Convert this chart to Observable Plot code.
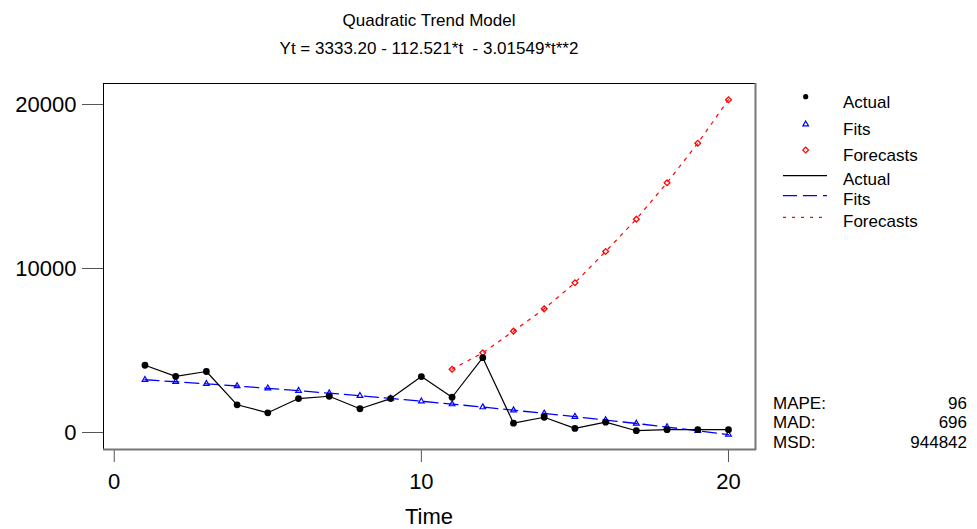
<!DOCTYPE html>
<html><head><meta charset="utf-8">
<script src="https://cdn.jsdelivr.net/npm/d3@7"></script>
<script src="https://cdn.jsdelivr.net/npm/@observablehq/plot@0.6"></script>
<style>body{margin:0;background:#fff}#chart{position:relative;width:977px;height:529px}</style>
</head><body><div id="chart"></div>
<script>
const time = [1,2,3,4,5,6,7,8,9,10,11,12,13,14,15,16,17,18,19,20];
const actual = [4100,3420,3720,1690,1200,2070,2210,1450,2070,3410,2150,4560,570,930,250,630,110,170,170,170];
const fits = [3218,3096,2969,2835,2695,2550,2398,2240,2076,1906,1731,1549,1361,1167,967,761,549,331,107,-123];
const forecastTime = [11,12,13,14,15,16,17,18,19,20];
const forecasts = [3860,4860,6180,7540,9130,11040,13010,15230,17640,20290];
const xTicks = [0,10,20];
const yTicks = [0,10000,20000];
const titleText = "Quadratic Trend Model";
const subtitleText = "Yt = 3333.20 - 112.521*t  - 3.01549*t**2";
const xLabel = "Time";
const legendLabels = ["Actual","Fits","Forecasts"];
const statNames = ["MAPE:","MAD:","MSD:"];
const statValues = ["96","696","944842"];

const actualData = time.map((t,i)=>({t, v: actual[i]}));
const fitsData = time.map((t,i)=>({t, v: fits[i]}));
const fcData = forecastTime.map((t,i)=>({t, v: forecasts[i]}));

const FONT = "'Liberation Sans', Arial, Helvetica, sans-serif";
const BLUE = "#0000ff", RED = "#ff0000";

const chart = Plot.plot({
  width: 977, height: 529,
  marginLeft: 103, marginRight: 222, marginTop: 83, marginBottom: 80,
  style: {fontFamily: FONT, background: "#fff", overflow: "visible"},
  x: {domain: [-0.35, 20.88]},
  y: {domain: [-1036, 21280]},
  marks: [
    Plot.frame({stroke: "black"}),
    Plot.axisX({ticks: xTicks, tickSize: 13, tickPadding: 11, fontSize: 22, stroke: "#555", fill: "black", label: null}),
    Plot.axisY({ticks: yTicks, tickSize: 21, tickPadding: 6, fontSize: 22, stroke: "#555", fill: "black", label: null, tickFormat: d => String(d)}),
    Plot.line(fcData, {x: "t", y: "v", stroke: RED, strokeWidth: 1.2, strokeDasharray: "3,6"}),
    Plot.line(fitsData, {x: "t", y: "v", stroke: BLUE, strokeWidth: 1.3, strokeDasharray: "14,6"}),
    Plot.line(actualData, {x: "t", y: "v", stroke: "black", strokeWidth: 1.2}),
    Plot.dot(fcData, {x: "t", y: "v", symbol: "square", rotate: 45, r: 2.3, stroke: RED, fill: "none", strokeWidth: 1.3}),
    Plot.dot(fitsData, {x: "t", y: "v", symbol: "triangle", r: 2.1, stroke: BLUE, fill: "none", strokeWidth: 1.2}),
    Plot.dot(actualData, {x: "t", y: "v", r: 3.4, fill: "black"})
  ]
});
document.getElementById("chart").appendChild(chart);

const svg = d3.select(chart);
svg.append("line").attr("x1", 755.5).attr("x2", 755.5).attr("y1", 83).attr("y2", 450).attr("stroke", "#777").attr("stroke-width", 2);
svg.append("line").attr("x1", 103).attr("x2", 756).attr("y1", 449.5).attr("y2", 449.5).attr("stroke", "#777").attr("stroke-width", 2);

const g = svg.append("g").attr("font-family", FONT).attr("fill", "black").attr("text-anchor", "start");
g.append("text").attr("x", 429).attr("y", 26).attr("text-anchor", "middle").attr("font-size", 17).text(titleText);
g.append("text").attr("x", 429).attr("y", 54).attr("text-anchor", "middle").attr("font-size", 17).style("white-space", "pre").text(subtitleText);
g.append("text").attr("x", 429).attr("y", 524).attr("text-anchor", "middle").attr("font-size", 22).text(xLabel);

// legend
const symY = [96.7, 124.3, 150];
const txtY = [108, 135, 161];
const sym = [d3.symbolCircle, d3.symbolTriangle, d3.symbolSquare];
const symCol = ["black", BLUE, RED];
const symR = [2.6, 2.1, 2.3];
legendLabels.forEach((lab, i) => {
  const p = g.append("path")
    .attr("d", d3.symbol(sym[i], Math.PI * symR[i] * symR[i])())
    .attr("transform", `translate(805.7,${symY[i]})` + (i === 2 ? " rotate(45)" : ""));
  if (i === 0) p.attr("fill", "black"); else p.attr("fill", "none").attr("stroke", symCol[i]).attr("stroke-width", 1.2);
  g.append("text").attr("x", 843).attr("y", txtY[i]).attr("text-anchor", "start").attr("font-size", 17).text(lab);
});
const lineY = [175.7, 195.7, 217.3];
const lineTxtY = [185, 205.3, 226.7];
const dash = [null, "14,6", "3,6"];
legendLabels.forEach((lab, i) => {
  const l = g.append("line").attr("x1", 783).attr("x2", 827).attr("y1", lineY[i]).attr("y2", lineY[i])
    .attr("stroke", symCol[i]).attr("stroke-width", 1.2);
  if (dash[i]) l.attr("stroke-dasharray", dash[i]);
  g.append("text").attr("x", 843).attr("y", lineTxtY[i]).attr("text-anchor", "start").attr("font-size", 17).text(lab);
});

// stats
const statY = [409, 428, 447.5];
statNames.forEach((n, i) => {
  g.append("text").attr("x", 773).attr("y", statY[i]).attr("text-anchor", "start").attr("font-size", 17).text(n);
  g.append("text").attr("x", 967).attr("y", statY[i]).attr("text-anchor", "end").attr("font-size", 17).text(statValues[i]);
});
</script>
</body></html>
